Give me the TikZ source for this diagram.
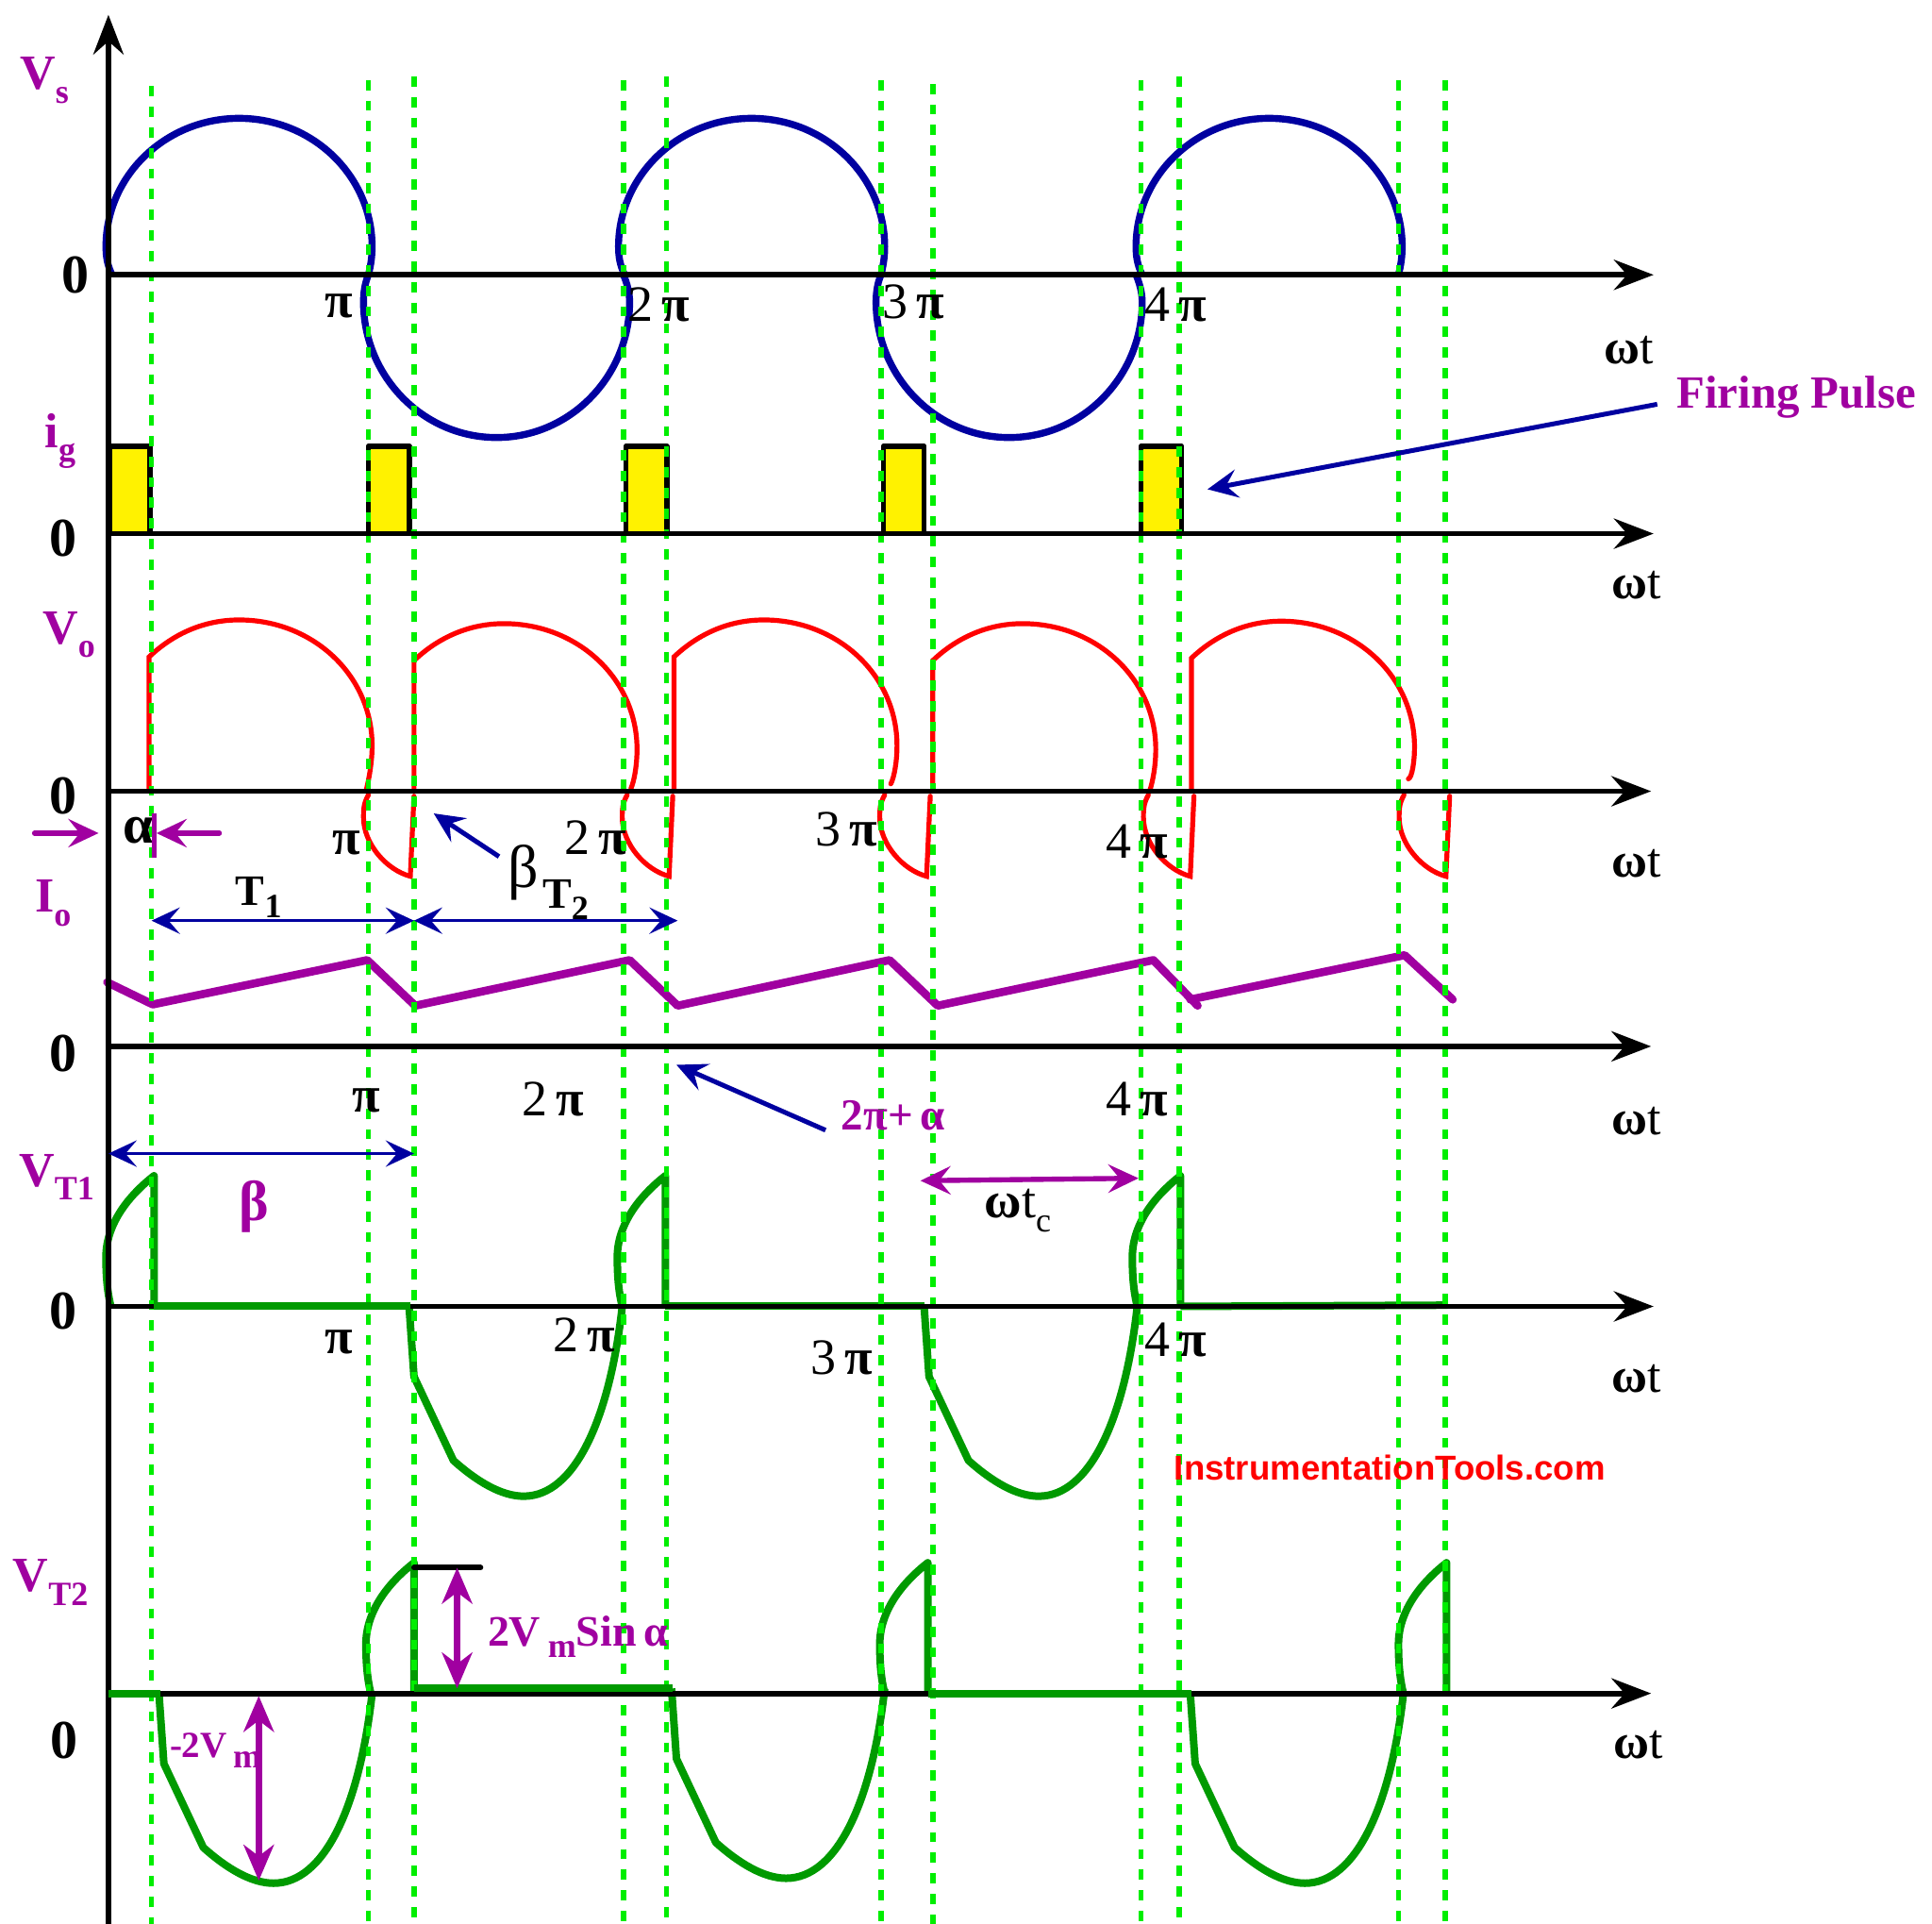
\documentclass[tikz,border=0pt]{standalone}
\usepackage{fontspec}
\setmainfont{Liberation Serif}
\newfontfamily\webfont{Liberation Sans}
\usetikzlibrary{arrows.meta}

\definecolor{labpurple}{HTML}{A000A0}
\definecolor{vsblue}{HTML}{0000A0}
\definecolor{wavegreen}{HTML}{009A00}
\definecolor{markgreen}{HTML}{00EE00}

\tikzset{
  axisline/.style={line width=2.9pt, -{Stealth[length=21pt, width=16pt, inset=7pt]}},
  vsline/.style={line width=3.7pt, vsblue},
  voline/.style={line width=2.6pt, red, line cap=round},
  ioline/.style={line width=4.3pt, labpurple, line cap=round, line join=round},
  vtline/.style={line width=4pt, wavegreen, line join=round},
  marker/.style={line width=2.8pt, markgreen, dash pattern=on 5.4pt off 5.5pt},
  pulsebox/.style={line width=2.9pt, fill=yellow, line join=round},
  bluearrow/.style={line width=2.5pt, vsblue, -{Stealth[length=16pt, width=15pt, inset=6pt]}},
  spanarrow/.style={line width=1.6pt, vsblue, {Stealth[length=15pt, width=14pt, inset=6pt]}-{Stealth[length=15pt, width=14pt, inset=6pt]}},
  purplearrow/.style={line width=2.7pt, labpurple, line cap=round, -{Stealth[length=16pt, width=15pt, inset=6pt]}},
  bigarrow/.style={line width=3.4pt, labpurple, {Stealth[length=19pt, width=16pt, inset=6pt]}-{Stealth[length=19pt, width=16pt, inset=6pt]}},
  lab/.style={inner sep=0pt, text=labpurple, font=\fontsize{26}{26}\bfseries\selectfont},
  zero/.style={inner sep=0pt, font=\fontsize{29}{29}\bfseries\selectfont},
  tick/.style={inner sep=0pt, font=\fontsize{27}{27}\selectfont},
  omega/.style={inner sep=0pt, font=\fontsize{26}{26}\selectfont},
}
\newcommand\sbs[1]{\raisebox{-0.28em}{\fontsize{18}{18}\selectfont #1}}
\newcommand\bpi{\textbf{π}}

\begin{document}
\begin{tikzpicture}[x=0.6531pt, y=-0.6531pt]
  \useasboundingbox (0,0) rectangle (1568,1561);

  % supply
  \foreach \cx in {194,610,1030}
    \draw[vsline, shift={(\cx,0)}] (-103,223) .. controls (-107,215) and (-108,208) .. (-108,200)
      .. controls (-108,143) and (-60,96) .. (0,96) .. controls (60,96) and (108,143) .. (108,200)
      .. controls (108,208) and (107,215) .. (105,223);
  \foreach \cx in {403,819}
    \draw[vsline, shift={(\cx,0)}] (-104,223) .. controls (-107,230) and (-108,238) .. (-108,245)
      .. controls (-108,305) and (-60,355) .. (0,355) .. controls (60,355) and (108,305) .. (108,245)
      .. controls (108,238) and (106,230) .. (103,223);

  % gate pulses
  \foreach \px in {89,299,508,717,926}
    \draw[pulsebox] (\px,433) rectangle +(33,-71);

  % output voltage
  \foreach \cx/\dy/\ye in {194/0/642, 409/3/640, 620/0/636, 830/3/642, 1040/1/632}
    \draw[voline, shift={(\cx,\dy)}] (-73,642-\dy) -- (-73,533) .. controls (-53,514) and (-28,503) .. (0,503)
      .. controls (60,503) and (108,548) .. (108,605) .. controls (108,617) and (106,630) .. (103,\ye-\dy);
  \foreach \sx in {299,509,718,932,1139.5}
    \draw[voline, shift={(\sx,0)}] (0,645) .. controls (-4,652) and (-4,657) .. (-4,663)
      .. controls (-4,685) and (15,706) .. (34,711) -- (37,646);

  % load current
  \draw[ioline] (87,797) -- (124,815) -- (298,779) -- (337,816) -- (511,779) -- (550,816)
    -- (722,779) -- (761,816) -- (936,779) -- (972,816);
  \draw[ioline] (966,811) -- (1140,775) -- (1179,811);

  % thyristor voltages
  \foreach \hx/\hy in {90/1060, 505/1060, 923/1060, 301/1374, 718/1374, 1139/1374}
    \draw[vtline, shift={(\hx,\hy)}] (0,0) .. controls (-3,-12) and (-4,-25) .. (-4,-40)
      .. controls (-4,-65) and (12,-88) .. (35,-106) -- (35,0);
  \foreach \dx/\dy in {332/1060, 750/1060, 129/1374, 545/1370, 966/1374}
    \draw[vtline, shift={(\dx,\dy)}] (0,0) -- (4,57) -- (36,125) .. controls (55,142) and (75,154) .. (93,154)
      .. controls (135,154) and (163,90) .. (173,0);
  \draw[vtline] (540,1060) -- (750,1060);
  \draw[vtline] (958,1060) -- (1175,1059);

  % firing instants
  \foreach \mx/\my in {123/70, 299/65, 336/62, 506/65, 541/62, 715/65, 757/68, 926/65, 957/62, 1135/65, 1173/65}
    \draw[marker] (\mx,\my) -- (\mx,1561);

  \draw[axisline] (88,1561) -- (88,12);
  \foreach \ay/\ax in {223/1342, 433/1342, 642/1340, 849/1340, 1060/1342, 1374/1340}
    \draw[axisline] (88,\ay) -- (\ax,\ay);

  \draw[vtline] (125,1060) -- (333,1060);
  \draw[vtline] (88,1374) -- (130,1374);
  \draw[vtline] (336,1370) -- (546,1370);
  \draw[vtline] (753,1374) -- (967,1374);

  \node[lab] (vslab) at (36,65) {V\sbs{s}};
  \node[lab] (iglab) at (49,358) {i\sbs{g}};
  \node[lab] (volab) at (56,515) {V\sbs{o}};
  \node[lab] (iolab) at (43,733) {I\sbs{o}};
  \node[lab] (vt1lab) at (46,955) {V\sbs{T1}};
  \node[lab] (vt2lab) at (41,1284) {V\sbs{T2}};

  \node[zero] (zeroa) at (61,223) {0};
  \node[zero] (zerob) at (51,437) {0};
  \node[zero] (zeroc) at (51,646) {0};
  \node[zero] (zerod) at (51,855) {0};
  \node[zero] (zeroe) at (51,1064) {0};
  \node[zero] (zerof) at (52,1412) {0};

  \node[tick] (pia) at (275,248) {\bpi};
  \node[tick] (pib) at (535,247) {2\,\bpi};
  \node[tick] (pic) at (741,245) {3\,\bpi};
  \node[tick] (pid) at (954,247) {4\,\bpi};
  \node[tick] (pie) at (281,684) {\bpi};
  \node[tick] (pif) at (483,680) {2\,\bpi};
  \node[tick] (pig) at (687,673) {3\,\bpi};
  \node[tick] (pih) at (923,683) {4\,\bpi};
  \node[tick] (pii) at (297,893) {\bpi};
  \node[tick] (pij) at (449,892) {2\,\bpi};
  \node[tick] (pik) at (923,892) {4\,\bpi};
  \node[tick] (pil) at (275,1089) {\bpi};
  \node[tick] (pim) at (474,1083) {2\,\bpi};
  \node[tick] (pin) at (683,1102) {3\,\bpi};
  \node[tick] (pio) at (954,1087) {4\,\bpi};

  \node[omega] (wta) at (1322,284) {\textbf{ω}t};
  \node[omega] (wtb) at (1328,475) {\textbf{ω}t};
  \node[omega] (wtc) at (1328,701) {\textbf{ω}t};
  \node[omega] (wtd) at (1328,910) {\textbf{ω}t};
  \node[omega] (wte) at (1328,1119) {\textbf{ω}t};
  \node[omega] (wtf) at (1330,1416) {\textbf{ω}t};

  \node[lab, font=\fontsize{24.4}{25}\bfseries\selectfont] (firing) at (1458,322) {Firing Pulse};
  \coordinate (firingtail) at (1345,328);
  \coordinate (pulsetip) at (980,397);
  \draw[bluearrow] (firingtail) -- (pulsetip); %% label->pulse

  % alpha
  \node[tick, font=\fontsize{29}{29}\bfseries\selectfont] (alphalab) at (112,674) {α};
  \coordinate (alphaa) at (28,676);
  \coordinate (alphab) at (80,676);
  \coordinate (alphac) at (178,676);
  \coordinate (alphad) at (127,676);
  \draw[purplearrow] (alphaa) -- (alphab);
  \draw[purplearrow] (alphac) -- (alphad);
  \draw[labpurple, line width=2.4pt] (125,660) -- (125,696);

  % beta, conduction spans
  \node[tick, font=\fontsize{32}{32}\selectfont] (betalab) at (425,708) {β};
  \coordinate (betatail) at (405,695);
  \coordinate (betatip) at (352,660);
  \draw[bluearrow] (betatail) -- (betatip);
  \node[tick, font=\fontsize{23}{23}\bfseries\selectfont] (tone) at (210,728) {T\sbs{1}};
  \node[tick, font=\fontsize{23}{23}\bfseries\selectfont] (ttwo) at (459,730) {T\sbs{2}};
  \coordinate (spana) at (123,747);
  \coordinate (spanb) at (336,747);
  \coordinate (spanc) at (550,747);
  \draw[spanarrow] (spana) -- (spanb);
  \draw[spanarrow] (spanb) -- (spanc);

  \node[lab, font=\fontsize{23.5}{24}\bfseries\selectfont] (alphaplus) at (725,905) {2π+\,α};
  \coordinate (plustail) at (670,917);
  \coordinate (plustip) at (549,864);
  \draw[bluearrow] (plustail) -- (plustip);

  \coordinate (betaa) at (88,936);
  \coordinate (betab) at (336,936);
  \draw[spanarrow] (betaa) -- (betab);
  \node[lab, font=\fontsize{30}{30}\bfseries\selectfont] (betaspan) at (206,979) {β};

  \coordinate (tca) at (747,958);
  \coordinate (tcb) at (924,956);
  \draw[purplearrow, {Stealth[length=16pt, width=15pt, inset=6pt]}-{Stealth[length=16pt, width=15pt, inset=6pt]}] (tca) -- (tcb);
  \node[tick, font=\fontsize{27}{27}\selectfont] (wtclab) at (826,982) {\textbf{ω}t\sbs{c}};

  \node[inner sep=0pt, text=red, font=\webfont\fontsize{18.3}{19}\bfseries\selectfont] (weblab) at (1128,1191) {InstrumentationTools.com};

  % vT2 amplitudes
  \coordinate (peaktop) at (336,1272);
  \coordinate (peakend) at (390,1272);
  \draw[line width=2.9pt, line cap=round] (peaktop) -- (peakend);
  \coordinate (siga) at (371,1272);
  \coordinate (sigb) at (371,1370);
  \draw[bigarrow] (siga) -- (sigb);
  \node[lab, font=\fontsize{23}{23}\bfseries\selectfont] (sinlab) at (469,1328) {2V\,\sbs{m}Sin\,α};
  \coordinate (vma) at (210,1376);
  \coordinate (vmb) at (210,1526);
  \draw[bigarrow] (vma) -- (vmb);
  \node[lab, font=\fontsize{19.5}{20}\bfseries\selectfont] (vmlab) at (175,1420) {-2V\,\sbs{m}};
\end{tikzpicture}
\end{document}
